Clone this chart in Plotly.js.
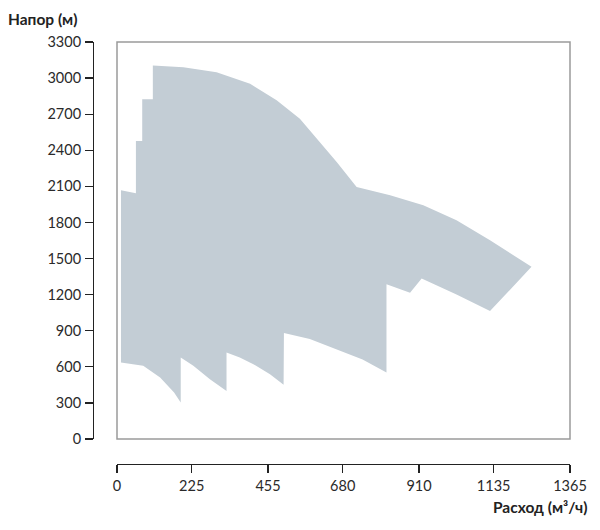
<!DOCTYPE html>
<html>
<head>
<meta charset="utf-8">
<script src="https://cdn.plot.ly/plotly-3.0.1.min.js"></script>
<style>html,body{margin:0;padding:0;background:#fff;}#chart{width:600px;height:530px;}</style>
</head>
<body>
<div id="chart"></div>
<script>
// Operating envelope outline (flow m3/h, head m)
const flowQ = [12, 12, 57, 57, 76, 76, 108, 108, 200, 300, 401, 481, 551, 612, 662, 722,
  823, 923, 1023, 1124, 1204, 1249, 1124, 1023, 918, 883, 812, 812, 740, 662, 581, 503,
  502, 461, 411, 370, 330, 330, 280, 230, 192, 192, 172, 130, 79, 12];
const headH = [636, 2067, 2042, 2478, 2478, 2825, 2825, 3105, 3091, 3049, 2953, 2815, 2662, 2468, 2302, 2095,
  2026, 1943, 1818, 1652, 1514, 1431, 1063, 1201, 1334, 1215, 1287, 553, 660, 747, 831, 881,
  450, 539, 622, 677, 719, 400, 497, 608, 678, 303, 386, 511, 608, 636];
const xTicks = [0, 225, 455, 680, 910, 1135, 1365];
const yTicks = [0, 300, 600, 900, 1200, 1500, 1800, 2100, 2400, 2700, 3000, 3300];
const xTitle = 'Расход (м³/ч)';
const yTitle = 'Напор (м)';

const font = 'Lato, "Noto Sans", sans-serif';
const trace = {
  type: 'scatter', mode: 'lines', x: flowQ, y: headH,
  fill: 'toself', fillcolor: '#c3cdd5', line: {width: 0, color: '#c3cdd5'},
  hoverinfo: 'skip', showlegend: false
};
const axisCommon = {
  showline: true, linecolor: '#222', linewidth: 1.2, ticks: 'outside', ticklen: 8,
  tickcolor: '#222', tickwidth: 1.2, showgrid: false, zeroline: false,
  tickfont: {family: font, size: 14.5, color: '#2a2a2a'}, anchor: 'free', position: 0
};
const layout = {
  width: 600, height: 530,
  margin: {l: 93, r: 30, t: 42, b: 66},
  paper_bgcolor: '#fff', plot_bgcolor: '#fff',
  xaxis: Object.assign({}, axisCommon, {
    domain: [24/477, 1], range: [0, 1365], tickmode: 'array',
    tickvals: xTicks, ticktext: xTicks.map(String)
  }),
  yaxis: Object.assign({}, axisCommon, {
    domain: [25/422, 1], range: [0, 3300], tickmode: 'array',
    tickvals: yTicks, ticktext: yTicks.map(String), ticklabelstandoff: 1
  }),
  shapes: [{type: 'rect', xref: 'x domain', yref: 'y domain', x0: 0, x1: 1, y0: 0, y1: 1,
    line: {color: '#9a9a9a', width: 1.5}, layer: 'above'}],
  annotations: [
    {text: '<b>' + yTitle + '</b>', xref: 'paper', yref: 'paper', x: -93/477, y: 1, yshift: 23,
     xanchor: 'left', yanchor: 'middle', xshift: 6, showarrow: false,
     font: {family: font, size: 15.5, color: '#222'}},
    {text: '<b>' + xTitle + '</b>', xref: 'paper', yref: 'paper', x: 1, y: 0, yshift: -43,
     xanchor: 'right', yanchor: 'middle', xshift: 19, showarrow: false,
     font: {family: font, size: 15.5, color: '#222'}}
  ]
};
Plotly.newPlot('chart', [trace], layout, {displayModeBar: false, staticPlot: true});
</script>
</body>
</html>
